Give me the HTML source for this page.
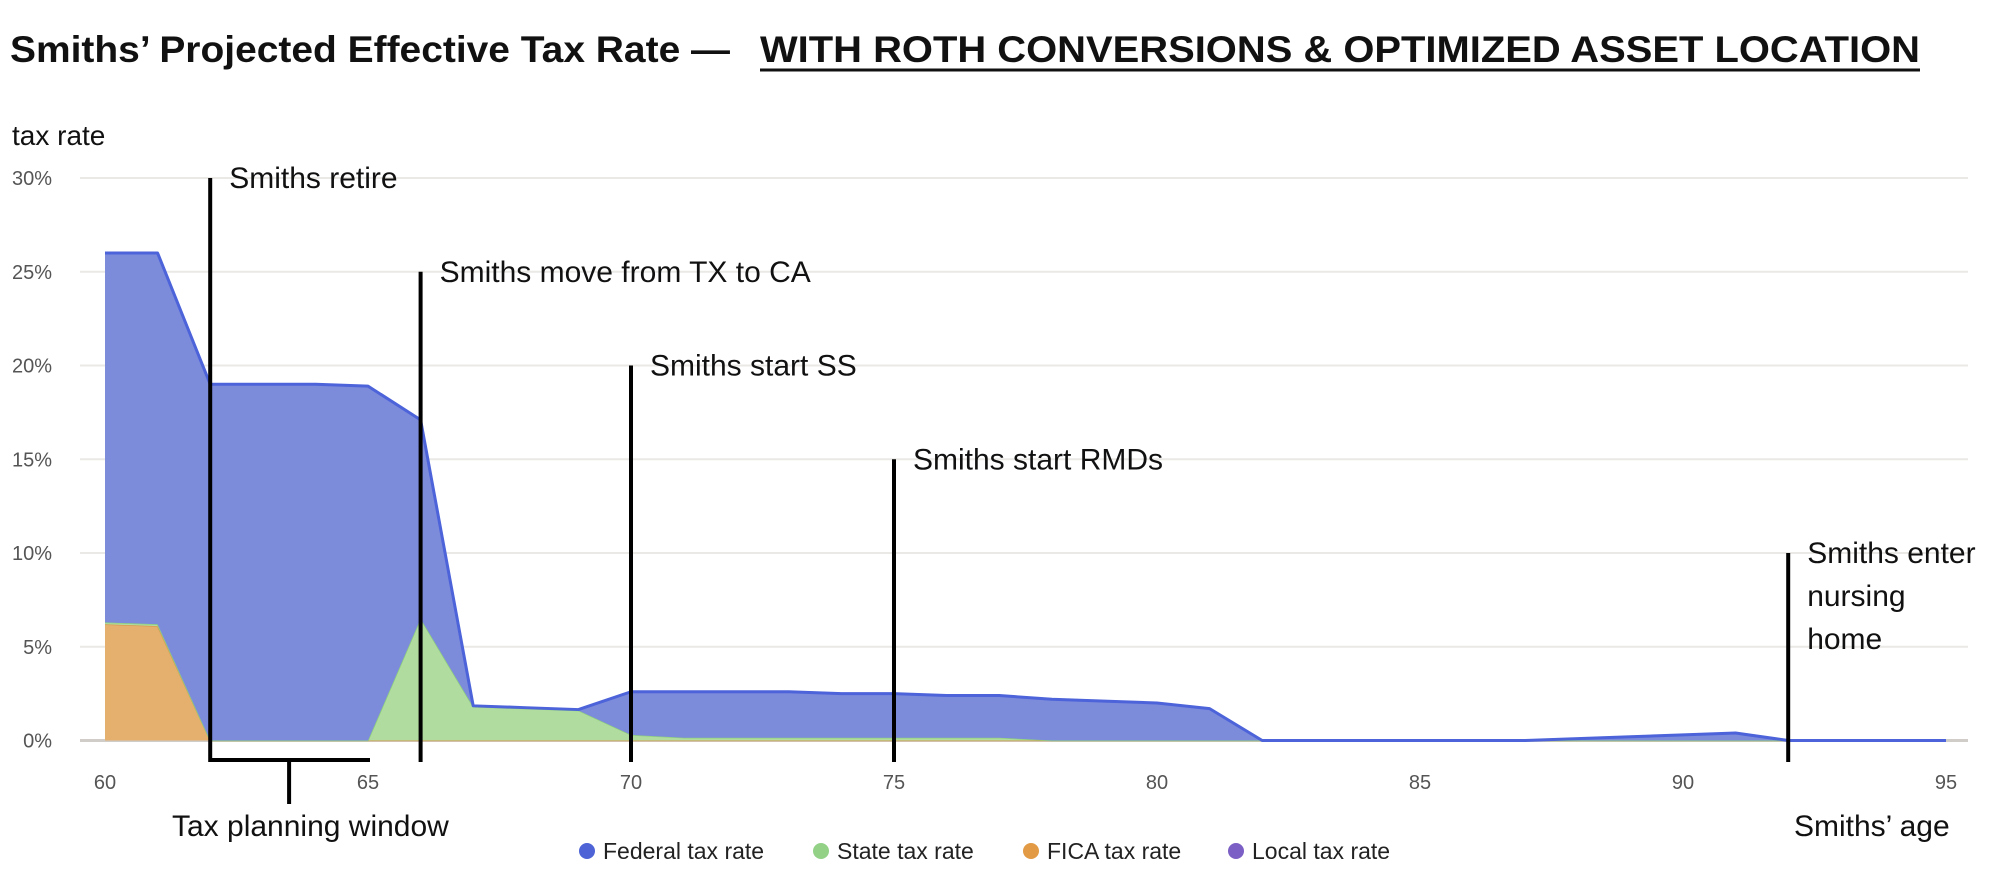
<!DOCTYPE html>
<html><head><meta charset="utf-8"><style>
html,body{margin:0;padding:0;background:#fff;}
svg{display:block;font-family:"Liberation Sans",sans-serif;}
</style></head><body>
<svg id="chart" width="2002" height="886" viewBox="0 0 2002 886">
<text x="10" y="62" font-size="37" font-weight="bold" fill="#111" textLength="720" lengthAdjust="spacingAndGlyphs">Smiths’ Projected Effective Tax Rate —</text>
<text x="760" y="62" font-size="37" font-weight="bold" fill="#111" textLength="1160" lengthAdjust="spacingAndGlyphs">WITH ROTH CONVERSIONS &amp; OPTIMIZED ASSET LOCATION</text>
<line x1="760" y1="70" x2="1920" y2="70" stroke="#111" stroke-width="3"/>
<text x="12" y="145" font-size="28" fill="#111">tax rate</text>
<g id="grid"></g><g id="areas"></g><g id="ann"></g>
<text x="172" y="836" font-size="30" fill="#111">Tax planning window</text>
<text x="1794" y="836" font-size="30" fill="#111">Smiths’ age</text>
<g id="legend"></g>
</svg>
<script>
const ages=[];for(let a=60;a<=95;a++)ages.push(a);
const fica=[6.2,6.1,0,0,0,0,0,0,0,0,0,0,0,0,0,0,0,0,0,0,0,0,0,0,0,0,0,0,0,0,0,0,0,0,0,0];
const state=[0.1,0.1,0,0,0,0,6.5,1.8,1.7,1.6,0.3,0.15,0.15,0.15,0.15,0.15,0.15,0.15,0,0,0,0,0,0,0,0,0,0,0,0,0,0,0,0,0,0];
const federal=[19.7,19.8,19,19,19,18.9,10.6,0.05,0.05,0.05,2.3,2.45,2.45,2.45,2.35,2.35,2.25,2.25,2.2,2.1,2.0,1.7,0,0,0,0,0,0,0.1,0.2,0.3,0.4,0,0,0,0];
const local=ages.map(()=>0);
const yTicks=[0,5,10,15,20,25,30];
const xTicks=[60,65,70,75,80,85,90,95];
const events=[{age:62,top:30,label:"Smiths retire"},{age:66,top:25,label:"Smiths move from TX to CA"},{age:70,top:20,label:"Smiths start SS"},{age:75,top:15,label:"Smiths start RMDs"},{age:92,top:10,label:"Smiths enter|nursing|home"}];
const X=a=>105+(a-60)*52.6, Y=v=>740.5-v*18.75;
const NS="http://www.w3.org/2000/svg";
function mk(tag,attrs,parent){const e=document.createElementNS(NS,tag);for(const k in attrs)e.setAttribute(k,attrs[k]);parent.appendChild(e);return e;}
const grid=document.getElementById('grid');
yTicks.forEach(t=>{
 const l=mk('line',{x1:80,x2:1968,y1:Y(t),y2:Y(t),stroke:t===0?'#d0cdc8':'#ebe9e5','stroke-width':t===0?3:2},grid);
 
 
 const tx=mk('text',{x:52,y:Y(t)+7,'font-size':20,fill:'#555','text-anchor':'end'},grid);tx.textContent=t+'%';
 
 
});
xTicks.forEach(t=>{
 const tx=mk('text',{x:X(t),y:789,'font-size':20,fill:'#555','text-anchor':'middle'},grid);tx.textContent=t;
 
 
});
const areas=document.getElementById('areas');
const b0=ages.map(()=>0);
const b1=fica.slice(), b2=fica.map((v,i)=>v+state[i]), b3=b2.map((v,i)=>v+federal[i]), b4=b3.map((v,i)=>v+local[i]);
function area(lo,hi,fill,stroke,sw,name){
 let d='M'+ages.map((a,i)=>X(a)+','+Y(hi[i])).join('L');
 for(let i=ages.length-1;i>=0;i--)d+='L'+X(ages[i])+','+Y(lo[i]);
 const p=mk('path',{d:d+'Z',fill:fill},areas);
 
 
 if(sw>0){
 const l=mk('path',{d:'M'+ages.map((a,i)=>X(a)+','+Y(hi[i])).join('L'),fill:'none',stroke:stroke,'stroke-width':sw,'stroke-linejoin':'round'},areas);
 
 
 }
}
area(b0,b1,'#e5b06e','#d99a50',1.5,'fica');
area(b1,b2,'#b0dca0','#8fd07c',1.5,'state');
area(b2,b3,'#7d8bdb','#4c63d9',3,'federal');
area(b3,b4,'#7b5fc4','#7b5fc4',0,'local');
const ann=document.getElementById('ann');
events.forEach((ev,i)=>{
 const l=mk('line',{x1:X(ev.age),x2:X(ev.age),y1:Y(ev.top),y2:762,stroke:'#000','stroke-width':4},ann);
 
 
 ev.label.split('|').forEach((s,j)=>{
  const t=mk('text',{x:X(ev.age)+19,y:Y(ev.top)+10+j*43,'font-size':30,fill:'#111'},ann);t.textContent=s;
  
  
 });
});
const br=mk('path',{d:`M${X(62)},760 L${X(65)+2},760 M${X(63.5)},760 L${X(63.5)},804`,stroke:'#000','stroke-width':4,fill:'none'},ann);


const legend=document.getElementById('legend');
const legNames=['Federal tax rate','State tax rate','FICA tax rate','Local tax rate'];
const legColors=['#4d63d6','#93d187','#e29a44','#7b5fc4'];
const legX=[587,821,1031,1236];
legNames.forEach((n,i)=>{
 const g=mk('g',{},legend);
 
 
 mk('circle',{cx:legX[i],cy:851,r:8,fill:legColors[i]},g);
 const t=mk('text',{x:legX[i]+16,y:859,'font-size':23,fill:'#222'},g);t.textContent=n;
});
</script>
</body></html>
